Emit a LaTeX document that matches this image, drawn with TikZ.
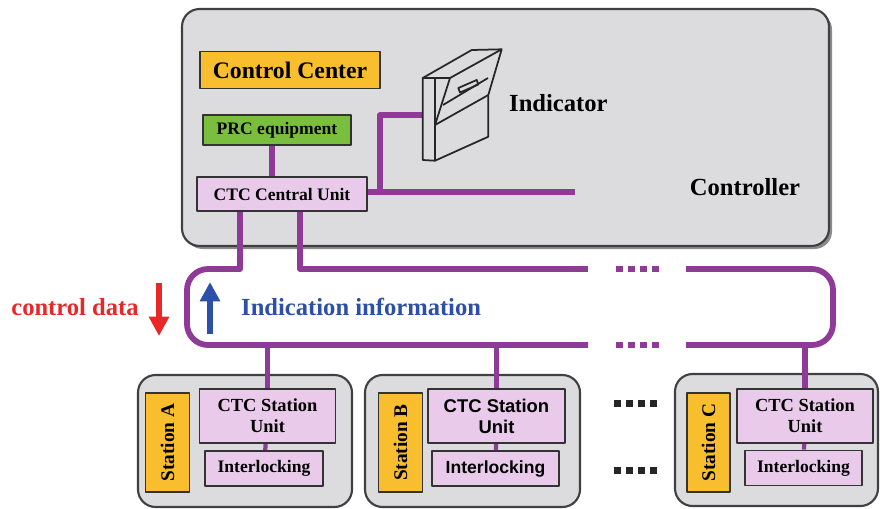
\documentclass[tikz,border=0pt]{standalone}
\usepackage{fontspec}
\setmainfont{Liberation Serif}
\newfontfamily\arialfont{Liberation Sans}
\usetikzlibrary{arrows.meta}
\definecolor{busviolet}{RGB}{142,58,150}
\definecolor{ccorange}{RGB}{248,190,46}
\definecolor{prcgreen}{RGB}{122,190,62}
\definecolor{unitpink}{RGB}{234,202,234}
\definecolor{panelgray}{RGB}{220,220,222}
\definecolor{ctrlred}{RGB}{232,40,40}
\definecolor{indblue}{RGB}{44,80,168}
\def\px{0.02cm}
\tikzset{
  box/.style={draw=black!80, line width=1.1pt, inner sep=0pt, align=center},
  bus/.style={busviolet, line width=3.3pt},
  panel/.style={draw=black!75, fill=panelgray, line width=1.2pt, rounded corners=10pt},
  unit/.style={box, fill=unitpink, minimum width=136*\px, minimum height=54*\px, font=\bfseries\fontsize{10.5}{12}\selectfont},
  ilock/.style={box, fill=unitpink, minimum width=118*\px, minimum height=35*\px, font=\bfseries\fontsize{10}{12}\selectfont},
  stname/.style={box, fill=ccorange, rotate=90, minimum width=99*\px, minimum height=44*\px, font=\bfseries\fontsize{11}{12}\selectfont},
  big/.style={font=\bfseries\fontsize{14}{16}\selectfont},
  flow/.style={line width=3.4pt, -{Triangle[length=11pt,width=11pt]}},
}
\begin{document}
\begin{tikzpicture}[x=0.02cm, y=-0.02cm, line join=round]
\useasboundingbox (0,0) rectangle (882,508);
% controller room
\fill[black!45, rounded corners=10pt] (185,12) rectangle (832,249);
\draw[panel] (182,9) rectangle (829,246);
\node[box, fill=ccorange, minimum width=180*\px, minimum height=37*\px, font=\bfseries\fontsize{13.5}{15}\selectfont] (cc) at (290,70) {Control Center};
\node[box, fill=prcgreen, minimum width=148*\px, minimum height=30*\px, font=\bfseries\fontsize{10}{12}\selectfont] (prc) at (277,130) {PRC equipment};
\node[box, fill=unitpink, minimum width=170*\px, minimum height=34*\px, font=\bfseries\fontsize{10}{12}\selectfont] (ctc) at (282,194) {CTC Central Unit};
\node[big, anchor=west] (ind) at (503,103) {Indicator};
\node[big] (ctrl) at (745,187) {Controller};
\coordinate (k1) at (272,0);
\coordinate (scr) at (422,115);
\draw[bus] (prc.south -| k1) -- (ctc.north -| k1);
\draw[bus] (ctc.east |- 0,192) -- (575,192) (380,192) |- (scr);
% indicator desk
\begin{scope}[black!85, line width=1pt]
\draw (422.7,160) -- (422.7,78) -- (471.7,50) -- (501.7,49.3) -- (488.3,95) -- (488.3,136.7) -- (435,160.7) -- cycle;
\draw (422.7,78) -- (450,78) -- (501.7,49.3) (450,78) -- (435,125) -- (488.3,95);
\draw (435,78) -- (435,160.7) (443,105) -- (488,78);
\draw (458.3,88) -- (476.7,80) -- (478.3,84.5) -- (460,92.5) -- cycle;
\end{scope}
% transmission line
\coordinate (btop) at (0,269);
\coordinate (bbot) at (0,345);
\draw[bus] ([xshift=-42*\px]ctc.south) |- (215,269);
\draw[bus, rounded corners=12pt] (215,269) -- (187,269) -- (187,345) -- (588,345);
\draw[bus] ([xshift=18*\px]ctc.south) |- (588,269);
\draw[bus, rounded corners=12pt] (686,269) -- (833,269) -- (833,345) -- (686,345);
\foreach \i in {0,...,3} {
  \fill[busviolet] (616+\i*12,266) rectangle ++(7,6);
  \fill[busviolet] (616+\i*12,342) rectangle ++(7,6);
  \fill[black!85] (614+\i*12,400) rectangle ++(7,7);
  \fill[black!85] (614+\i*12,467) rectangle ++(7,7);
}
\node[big, text=ctrlred] (cdata) at (75,307) {control data};
\node[big, text=indblue, anchor=west] (indinfo) at (235,307) {Indication information};
\draw[flow, ctrlred] (159,283) -- (159,336);
\draw[flow, indblue] (210,334) -- (210,282);
% stations
\draw[panel] (138,375) rectangle (352,507);
\node[stname] (sA) at (167.5,442.5) {Station A};
\node[unit] (uA) at (267.5,416) {CTC Station\\Unit};
\node[ilock] (iA) at (264,468.5) {Interlocking};
\draw[panel] (365,375) rectangle (580,507);
\node[stname] (sB) at (400.5,442.5) {Station B};
\node[unit, minimum width=137*\px, font=\arialfont\bfseries\fontsize{10.5}{12}\selectfont] (uB) at (496.5,416) {CTC Station\\Unit};
\node[ilock, minimum width=127*\px, font=\arialfont\bfseries\fontsize{10}{12}\selectfont] (iB) at (495.5,468.5) {Interlocking};
\draw[panel] (675,374) rectangle (878,506);
\node[stname, minimum height=43*\px] (sC) at (708.5,442.5) {Station C};
\node[unit] (uC) at (805,416) {CTC Station\\Unit};
\node[ilock, minimum width=117*\px] (iC) at (803.5,468) {Interlocking};
\foreach \s in {A,B,C} {
  \draw[bus] (u\s.north |- bbot) -- (u\s.north);
  \draw[bus, line width=2.4pt] (u\s) -- (i\s);
}
\end{tikzpicture}
\end{document}
